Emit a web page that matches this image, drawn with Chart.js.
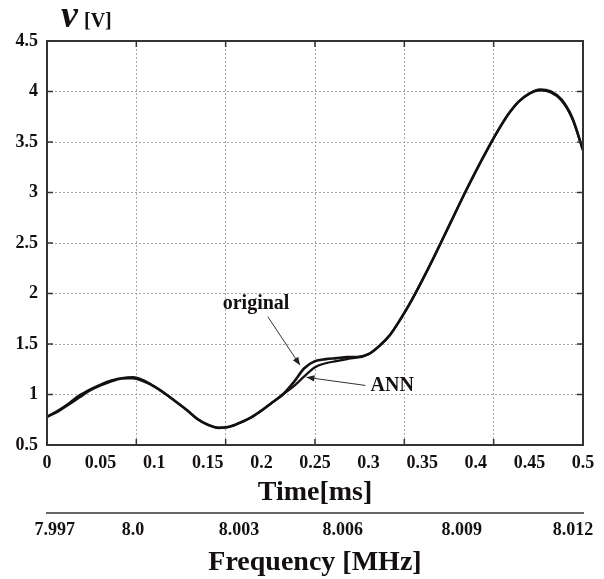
<!DOCTYPE html>
<html>
<head>
<meta charset="utf-8">
<script src="https://cdn.jsdelivr.net/npm/chart.js@4/dist/chart.umd.min.js"></script>
<style>
html,body{margin:0;padding:0;background:#fff;}
#wrap{width:604px;height:579px;position:relative;}
</style>
</head>
<body>
<div id="wrap"><canvas id="c" width="604" height="579"></canvas></div>
<script>
// ---- data ----
const timeMs = [0.00,0.01,0.02,0.03,0.04,0.05,0.06,0.07,0.08,0.09,0.10,0.11,0.12,0.13,0.14,0.15,0.16,0.17,0.18,0.19,0.20,0.21,0.22,0.23,0.24,0.25,0.26,0.27,0.28,0.29,0.30,0.31,0.32,0.33,0.34,0.35,0.36,0.37,0.38,0.39,0.40,0.41,0.42,0.43,0.44,0.45,0.46,0.47,0.48,0.49,0.50];
const originalV = [0.78,0.83,0.90,0.97,1.04,1.09,1.13,1.16,1.17,1.14,1.08,1.01,0.93,0.85,0.76,0.70,0.67,0.68,0.72,0.77,0.84,0.92,1.00,1.12,1.26,1.33,1.35,1.36,1.37,1.37,1.40,1.48,1.59,1.75,1.93,2.13,2.34,2.56,2.78,3.00,3.21,3.41,3.60,3.77,3.90,3.98,4.02,4.00,3.92,3.74,3.42];
const annV      = [0.78,0.84,0.91,0.99,1.05,1.10,1.14,1.16,1.16,1.13,1.08,1.01,0.93,0.85,0.76,0.70,0.67,0.68,0.72,0.77,0.84,0.92,1.00,1.08,1.18,1.27,1.31,1.33,1.35,1.37,1.40,1.48,1.59,1.75,1.93,2.13,2.34,2.56,2.78,3.00,3.21,3.41,3.60,3.77,3.90,3.98,4.01,3.99,3.91,3.73,3.42];
const freqLabels  = ['7.997','8.0','8.003','8.006','8.009','8.012'];
const freqLabelAt = [0.0072,0.0802,0.179,0.276,0.387,0.4907]; // time position (ms) under which each frequency label sits
const gridDivisions = 6; // vertical grid every 0.5/6 ms

const FONT = '"Liberation Serif","Times New Roman",serif';
const INK = '#141010';

const toXY = (xs, ys) => xs.map((x, i) => ({x, y: ys[i]}));

const decor = {
  id: 'decor',
  afterDatasetsDraw(chart) {
    const {ctx, chartArea: a, scales} = chart;
    const xs = scales.x, ys = scales.y;
    ctx.save();
    // frame
    ctx.strokeStyle = '#333';
    ctx.lineWidth = 2;
    ctx.strokeRect(a.left, a.top, a.right - a.left, a.bottom - a.top);
    // inner tick marks
    ctx.lineWidth = 1.5;
    ctx.beginPath();
    scales.xg.ticks.forEach(t => {
      const px = xs.getPixelForValue(t.value);
      ctx.moveTo(px, a.bottom); ctx.lineTo(px, a.bottom - 6);
      ctx.moveTo(px, a.top); ctx.lineTo(px, a.top + 6);
    });
    ys.ticks.forEach(t => {
      const py = ys.getPixelForValue(t.value);
      ctx.moveTo(a.left, py); ctx.lineTo(a.left + 6, py);
      ctx.moveTo(a.right, py); ctx.lineTo(a.right - 6, py);
    });
    ctx.stroke();

    // annotations
    const P = (t, v) => [xs.getPixelForValue(t), ys.getPixelForValue(v)];
    const arrow = (from, to) => {
      const [x1, y1] = P(from[0], from[1]);
      const [x2, y2] = P(to[0], to[1]);
      ctx.strokeStyle = '#333'; ctx.fillStyle = '#222'; ctx.lineWidth = 1;
      ctx.beginPath(); ctx.moveTo(x1, y1); ctx.lineTo(x2, y2); ctx.stroke();
      const ang = Math.atan2(y2 - y1, x2 - x1), L = 8, W = 3.2;
      ctx.beginPath();
      ctx.moveTo(x2, y2);
      ctx.lineTo(x2 - L*Math.cos(ang) + W*Math.sin(ang), y2 - L*Math.sin(ang) - W*Math.cos(ang));
      ctx.lineTo(x2 - L*Math.cos(ang) - W*Math.sin(ang), y2 - L*Math.sin(ang) + W*Math.cos(ang));
      ctx.closePath(); ctx.fill();
    };
    arrow([0.206, 1.77], [0.236, 1.29]);
    arrow([0.297, 1.09], [0.242, 1.17]);
    ctx.fillStyle = INK;
    ctx.font = 'bold 20px ' + FONT;
    ctx.textAlign = 'center'; ctx.textBaseline = 'middle';
    let [tx, ty] = P(0.195, 1.90);
    ctx.fillText('original', tx, ty);
    [tx, ty] = P(0.322, 1.09);
    ctx.fillText('ANN', tx, ty);
    ctx.restore();
  },
  afterDraw(chart) {
    const {ctx} = chart;
    ctx.save();
    ctx.fillStyle = INK;
    ctx.textBaseline = 'alphabetic';
    ctx.textAlign = 'left';
    ctx.font = 'bold italic 38px ' + FONT;
    ctx.fillText('\u03bd', 61, 27);
    ctx.font = 'bold 20px ' + FONT;
    ctx.fillText('[V]', 84, 27);
    ctx.restore();
  }
};

new Chart(document.getElementById('c'), {
  type: 'line',
  data: {
    datasets: [
      {label: 'original', data: toXY(timeMs, originalV), borderColor: INK, borderWidth: 2.6, pointRadius: 0, tension: 0.4, cubicInterpolationMode: 'monotone', fill: false},
      {label: 'ANN', data: toXY(timeMs, annV), borderColor: INK, borderWidth: 2.2, pointRadius: 0, tension: 0.4, cubicInterpolationMode: 'monotone', fill: false}
    ]
  },
  options: {
    responsive: false,
    animation: false,
    devicePixelRatio: 1,
    layout: {padding: {top: 41, right: 21, left: 0, bottom: 0}},
    plugins: {legend: {display: false}, tooltip: {enabled: false}, title: {display: false}},
    scales: {
      x: {
        type: 'linear', position: 'bottom', weight: 0, min: 0, max: 0.5,
        afterFit(s) { s.height = 68; },
        grid: {display: false, drawTicks: false},
        border: {display: false},
        ticks: {stepSize: 0.05, padding: 8, autoSkip: false, maxRotation: 0, color: INK,
                font: {family: FONT, size: 18, weight: 'bold', lineHeight: 1.2},
                callback: v => String(+Number(v).toFixed(2))},
        title: {display: true, text: 'Time[ms]', color: INK,
                font: {family: FONT, size: 28, weight: 'bold', lineHeight: 1},
                padding: {top: 0, bottom: 6}}
      },
      xf: {
        type: 'linear', position: 'bottom', weight: 1, min: 0, max: 0.5,
        afterFit(s) { s.height = 66; },
        afterBuildTicks(s) { s.ticks = freqLabelAt.map(v => ({value: v})); },
        grid: {display: false, drawTicks: false},
        border: {display: true, color: '#666', width: 2},
        ticks: {padding: 7, autoSkip: false, maxRotation: 0, color: INK,
                font: {family: FONT, size: 18, weight: 'bold', lineHeight: 1.2},
                callback: (v, i) => freqLabels[i]},
        title: {display: true, text: 'Frequency [MHz]', color: INK,
                font: {family: FONT, size: 28, weight: 'bold', lineHeight: 1},
                padding: {top: 0, bottom: 2}}
      },
      xg: {
        type: 'linear', position: 'top', min: 0, max: 0.5,
        afterFit(s) { s.height = 0; },
        afterBuildTicks(s) {
          const t = [];
          for (let k = 0; k <= gridDivisions; k++) t.push({value: 0.5 * k / gridDivisions});
          s.ticks = t;
        },
        grid: {display: true, drawTicks: false, color: '#a8a8a8', lineWidth: 1},
        border: {display: false, dash: [2, 2]},
        ticks: {display: false}
      },
      y: {
        type: 'linear', position: 'left', min: 0.5, max: 4.5,
        afterFit(s) { s.width = 47; },
        grid: {display: true, drawTicks: false, color: '#a8a8a8', lineWidth: 1},
        border: {display: false, dash: [2, 2]},
        ticks: {stepSize: 0.5, padding: 9, color: INK,
                font: {family: FONT, size: 18, weight: 'bold', lineHeight: 1.2},
                callback: v => String(+Number(v).toFixed(1))}
      }
    }
  },
  plugins: [decor]
});
</script>
</body>
</html>
